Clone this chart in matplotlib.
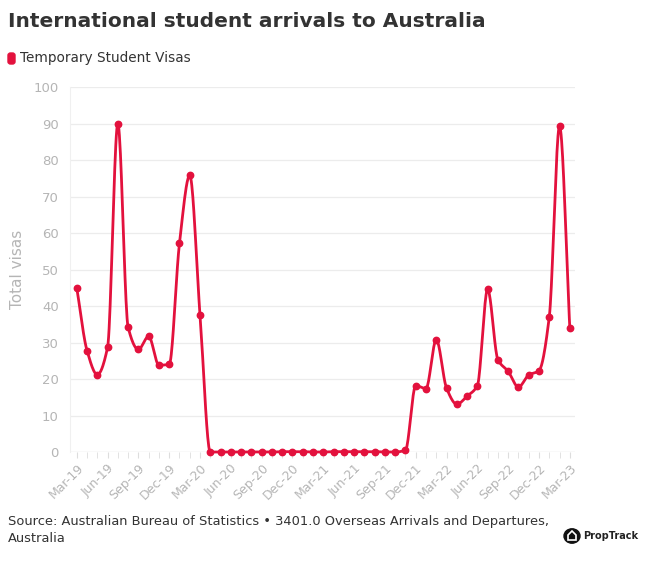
import numpy as np
import matplotlib
matplotlib.use("Agg")
import matplotlib.pyplot as plt
from matplotlib.patches import FancyBboxPatch, Circle, Polygon

# monthly arrivals, Mar-19 .. Mar-23 (thousands)
months = ["Mar-19", "Apr-19", "May-19", "Jun-19", "Jul-19", "Aug-19", "Sep-19",
          "Oct-19", "Nov-19", "Dec-19", "Jan-20", "Feb-20", "Mar-20", "Apr-20",
          "May-20", "Jun-20", "Jul-20", "Aug-20", "Sep-20", "Oct-20", "Nov-20",
          "Dec-20", "Jan-21", "Feb-21", "Mar-21", "Apr-21", "May-21", "Jun-21",
          "Jul-21", "Aug-21", "Sep-21", "Oct-21", "Nov-21", "Dec-21", "Jan-22",
          "Feb-22", "Mar-22", "Apr-22", "May-22", "Jun-22", "Jul-22", "Aug-22",
          "Sep-22", "Oct-22", "Nov-22", "Dec-22", "Jan-23", "Feb-23", "Mar-23"]
visas = [45.0, 27.8, 21.2, 28.7, 90.0, 34.2, 28.1, 31.7, 23.8, 24.0, 57.2, 75.8,
         37.6, 0.0, 0.0, 0.0, 0.0, 0.0, 0.0, 0.0, 0.1, 0.1, 0.1, 0.0, 0.0, 0.1,
         0.1, 0.1, 0.1, 0.1, 0.0, 0.0, 0.5, 18.2, 17.4, 30.8, 17.5, 13.1, 15.3,
         18.2, 44.6, 25.3, 22.1, 17.8, 21.1, 22.3, 37.0, 89.3, 34.0]
yticks = [0, 10, 20, 30, 40, 50, 60, 70, 80, 90, 100]

RED = "#e3113d"
GREY = "#b5b5b5"
DARK = "#333333"


def monotone_curve(x, y, n=20):
    # monotone cubic (Fritsch-Carlson) for a smoothed line like the original
    x = np.asarray(x, float)
    y = np.asarray(y, float)
    h = np.diff(x)
    d = np.diff(y) / h
    m = np.zeros_like(y)
    m[0], m[-1] = d[0], d[-1]
    for i in range(1, len(y) - 1):
        if d[i - 1] * d[i] <= 0:
            m[i] = 0.0
        else:
            m[i] = 3 * (h[i - 1] + h[i]) / ((2 * h[i] + h[i - 1]) / d[i - 1] +
                                          (h[i] + 2 * h[i - 1]) / d[i])
    xs, ys = [], []
    for i in range(len(h)):
        t = np.linspace(0, 1, n, endpoint=False)
        h00 = 2 * t**3 - 3 * t**2 + 1
        h10 = t**3 - 2 * t**2 + t
        h01 = -2 * t**3 + 3 * t**2
        h11 = t**3 - t**2
        xs.append(x[i] + t * h[i])
        ys.append(h00 * y[i] + h10 * h[i] * m[i] + h01 * y[i + 1] + h11 * h[i] * m[i + 1])
    xs.append([x[-1]])
    ys.append([y[-1]])
    return np.concatenate(xs), np.concatenate(ys)


plt.rcParams["font.family"] = ["DejaVu Sans"]
fig = plt.figure(figsize=(6.46, 5.81), dpi=100)
ax = fig.add_axes([0.108, 0.222, 0.782, 0.628])

xi = np.arange(len(visas))
cx, cy = monotone_curve(xi, visas)
ax.plot(cx, cy, color=RED, lw=2.0, clip_on=False, zorder=3)
ax.plot(xi, visas, "o", color=RED, ms=4.6, clip_on=False, zorder=4)

ax.set_xlim(-0.68, 48.5)
ax.set_ylim(0, 100)
ax.set_yticks(yticks)
ax.set_yticklabels([str(v) for v in yticks], color=GREY, fontsize=9.5)
ax.set_xticks(xi, minor=True)
ax.set_xticks(xi[::3])
ax.set_xticklabels(months[::3], rotation=45, ha="right", rotation_mode="anchor",
                   color=GREY, fontsize=9)
ax.tick_params(axis="y", length=0, pad=8)
ax.tick_params(axis="x", which="both", length=4, color="#dddddd", pad=3)
ax.grid(axis="y", color="#ececec", lw=0.9, zorder=0)
for s in ["top", "right", "bottom"]:
    ax.spines[s].set_visible(False)
ax.spines["left"].set_color("#f0f0f0")
ax.axhline(0, color="#e3e3e3", lw=0.9, zorder=1)
ax.set_ylabel("Total visas", color=GREY, fontsize=11, labelpad=6)

fig.text(0.012, 0.963, "International student arrivals to Australia",
         fontsize=14.5, fontweight="heavy", color=DARK, va="center")
fig.patches.append(FancyBboxPatch((8 / 646, 1 - 64 / 581), 7 / 646, 11 / 581,
                                  boxstyle="round,pad=0,rounding_size=0.004",
                                  transform=fig.transFigure, color=RED))
fig.text(20 / 646, 1 - 58 / 581, "Temporary Student Visas", fontsize=9.8,
         color=DARK, va="center")

fig.text(0.012, 1 - 530 / 581,
         "Source: Australian Bureau of Statistics \u2022 3401.0 Overseas Arrivals and Departures,\nAustralia",
         fontsize=9.4, color=DARK, va="center", linespacing=1.35,
         transform=fig.transFigure)

# PropTrack badge
lx, ly = 572 / 646, 1 - 536 / 581
fig.patches.append(Circle((lx, ly), 8 / 646, transform=fig.transFigure,
                          color="#111111"))
fig.patches.append(Polygon([[lx - 4 / 646, ly - 4 / 581], [lx - 4 / 646, ly + 1 / 581],
                            [lx, ly + 5 / 581], [lx + 4 / 646, ly + 1 / 581],
                            [lx + 4 / 646, ly - 4 / 581]], closed=True,
                           transform=fig.transFigure, fc="none", ec="white", lw=1.2))
fig.text(583 / 646, ly, "PropTrack", fontsize=7, fontweight="bold", color="#222222",
         va="center")

fig.savefig("out.png", dpi=100)
